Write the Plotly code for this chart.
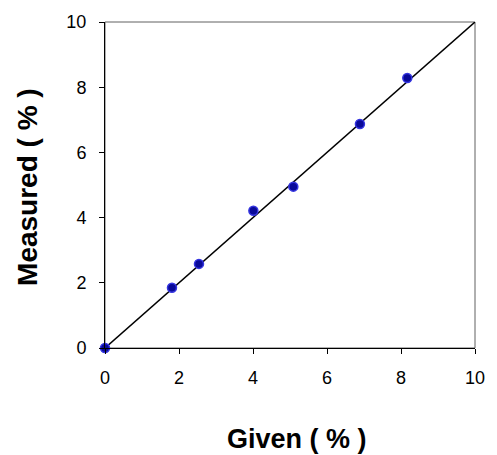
import plotly.graph_objects as go

given = [0.0, 1.81, 2.54, 4.01, 5.09, 6.89, 8.17]
measured = [0.0, 1.85, 2.58, 4.21, 4.95, 6.87, 8.28]
line_x = [0, 10]
line_y = [0, 10]
tick_vals = [0, 2, 4, 6, 8, 10]
tick_text = ["0", "2", "4", "6", "8", "10"]

fig = go.Figure()
fig.add_trace(go.Scatter(x=line_x, y=line_y, mode="lines",
                         line=dict(color="black", width=1.5),
                         showlegend=False, hoverinfo="skip"))
fig.add_trace(go.Scatter(x=given, y=measured, mode="markers",
                         marker=dict(size=9, color="#0a0a99",
                                     line=dict(color="#3535e0", width=1.5)),
                         cliponaxis=False, showlegend=False))

axis_common = dict(range=[0, 10], tickvals=tick_vals, ticktext=tick_text,
                   showgrid=False, zeroline=False, showline=True,
                   linecolor="black", linewidth=1, ticks="outside",
                   ticklen=5, tickcolor="black",
                   tickfont=dict(family="Liberation Sans, Arial", size=18, color="black"))

fig.update_layout(
    width=497, height=455,
    margin=dict(l=105, r=12, t=18, b=107),
    paper_bgcolor="white", plot_bgcolor="white",
    xaxis=dict(**axis_common, ticklabelstandoff=8),
    yaxis=dict(**axis_common, ticklabelstandoff=9),
    shapes=[dict(type="rect", xref="paper", yref="paper", x0=0, y0=0, x1=1, y1=1,
                 line=dict(color="#606060", width=1), layer="below")],
    annotations=[
        dict(text="<b>Given ( % )</b>", xref="paper", yref="paper",
             x=0.518, y=-0.279, xanchor="center", yanchor="middle", showarrow=False,
             font=dict(family="Liberation Sans, Arial", size=27, color="black")),
        dict(text="<b>Measured ( % )</b>", xref="paper", yref="paper",
             x=-0.21, y=0.495, xanchor="center", yanchor="middle", showarrow=False,
             textangle=-90,
             font=dict(family="Liberation Sans, Arial", size=28, color="black")),
    ],
)

fig.write_html(
    "out.html",
    config={"displayModeBar": False},
    post_script=(
        "document.body.style.margin='0px';"
        "document.body.style.overflow='hidden';"
        "document.documentElement.style.overflow='hidden';"
    ),
)
